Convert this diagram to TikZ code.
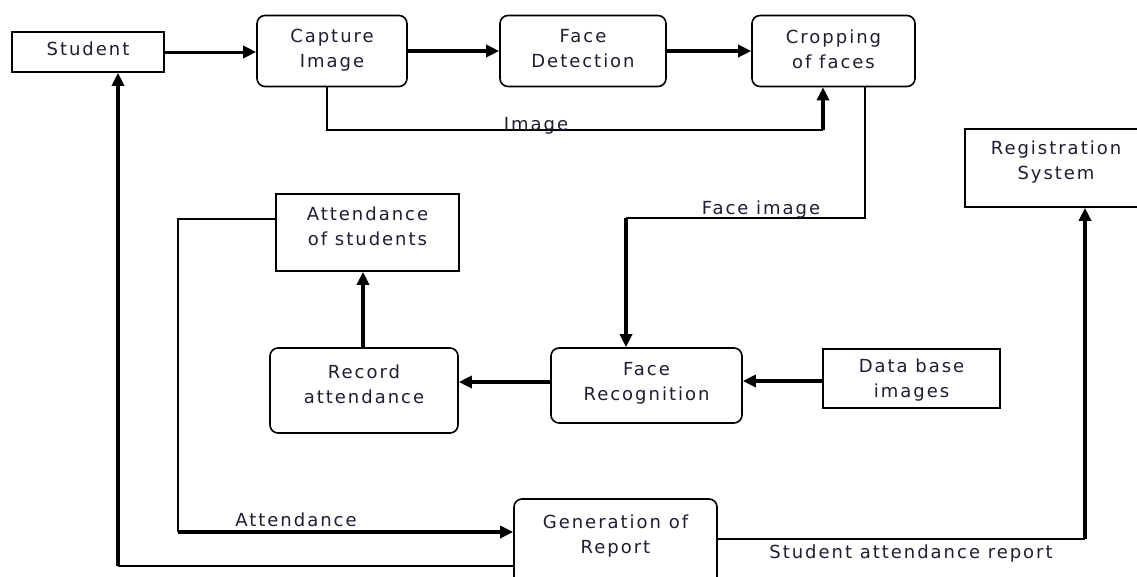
\documentclass[tikz,border=0pt]{standalone}
\usepackage{fontspec}
\setmainfont{DejaVu Sans}[LetterSpace=11]
\usetikzlibrary{arrows.meta}
\definecolor{txtc}{RGB}{30,30,50}
\tikzset{
  box/.style={draw=black, line width=1.6pt, inner sep=0pt},
  rbox/.style={box, rounded corners=8pt},
  txt/.style={font=\fontsize{18}{25}\selectfont, text=txtc, align=center, inner sep=0pt},
  lbl/.style={font=\fontsize{18}{25}\selectfont, text=txtc, inner sep=0pt},
  thin line/.style={draw=black, line width=1.6pt},
  thick line/.style={draw=black, line width=3.6pt},
  arr/.style={-{Triangle[length=13pt,width=12pt]}},
}
\begin{document}
\begin{tikzpicture}[x=1pt,y=-1pt]
\useasboundingbox (0,0) rectangle (1137,576);
\clip (0,0) rectangle (1137,576);
\fill[white] (0,0) rectangle (1137,576);

% boxes
\node[box, minimum width=152pt, minimum height=40pt] (stu) at (88,52) {};
\node[txt] (stut) at (88,49) {Student};
\node[rbox, minimum width=150pt, minimum height=71pt] (cap) at (332,51) {};
\node[txt] (capt) at (332,50.5) {Capture\\Image};
\node[rbox, minimum width=166pt, minimum height=71pt] (fd) at (583,51) {};
\node[txt] (fdt) at (583,49) {Face\\Detection};
\node[rbox, minimum width=163pt, minimum height=71pt] (crop) at (833.5,51) {};
\node[txt] (cropt) at (833.5,49) {Cropping\\of faces};
\node[box, minimum width=182pt, minimum height=78pt] (reg) at (1056,168) {};
\node[txt] (regt) at (1056,162.5) {Registration\\System};
\node[box, minimum width=183pt, minimum height=77pt] (att) at (367.5,232.5) {};
\node[txt] (attt) at (367.5,226.5) {Attendance\\of students};
\node[rbox, minimum width=188pt, minimum height=85pt] (rec) at (364,390.5) {};
\node[txt] (rect) at (364,384.5) {Record\\attendance};
\node[rbox, minimum width=191pt, minimum height=75pt] (fr) at (646.5,385.5) {};
\node[txt] (frt) at (646.5,383.5) {Face\\Recognition};
\node[box, minimum width=177pt, minimum height=59pt] (db) at (911.5,378.5) {};
\node[txt] (dbt) at (911.5,380.5) {Data base\\images};
\node[rbox, minimum width=203pt, minimum height=92pt] (gen) at (615.5,545) {};
\node[txt] (gent) at (615.5,536.5) {Generation of\\Report};

% top row connectors
\draw[draw=black, line width=3pt, arr] (stu.east) -- (stu.east -| cap.west);
\draw[thick line, arr] (cap.east) -- (fd.west);
\draw[thick line, arr] (fd.east) -- (crop.west);

% Image loop
\coordinate (imgc) at (823,130);
\draw[thin line] (cap.south -| 327,0) |- (imgc);
\draw[thick line, arr] (imgc) -- (imgc |- crop.south);
\node[lbl, anchor=base] (imglbl) at (536,130) {Image};

% Face image
\coordinate (fic) at (626,218);
\draw[thin line] (crop.south -| 865,0) |- (fic);
\draw[thick line, arr] (fic) -- (fic |- fr.north);
\node[lbl, anchor=base] (filbl) at (761,214) {Face image};

% middle row
\draw[thick line, arr] (rec.north -| 363,0) -- (att.south -| 363,0);
\draw[thick line, arr] (fr.west |- 0,382) -- (rec.east |- 0,382);
\draw[thick line, arr] (db.west |- 0,381) -- (fr.east |- 0,381);

% attendance to report
\coordinate (ac) at (178,532);
\draw[thin line] (att.west |- 0,219) -| (ac);
\draw[thick line, arr] (ac) -- (gen.west |- ac);
\node[lbl, anchor=base] (attlbl) at (296,526) {Attendance};

% report back to student
\coordinate (sc) at (118,566);
\draw[thin line] (gen.west |- sc) -- (sc);
\draw[thick line, arr] (sc) -- (stu.south -| sc);

% report to registration
\coordinate (rc) at (1085,539);
\draw[thin line] (gen.east |- rc) -- (rc);
\draw[thick line, arr] (rc) -- (reg.south -| rc);
\node[lbl, anchor=base] (sarlbl) at (911,558) {Student attendance report};
\end{tikzpicture}
\end{document}
